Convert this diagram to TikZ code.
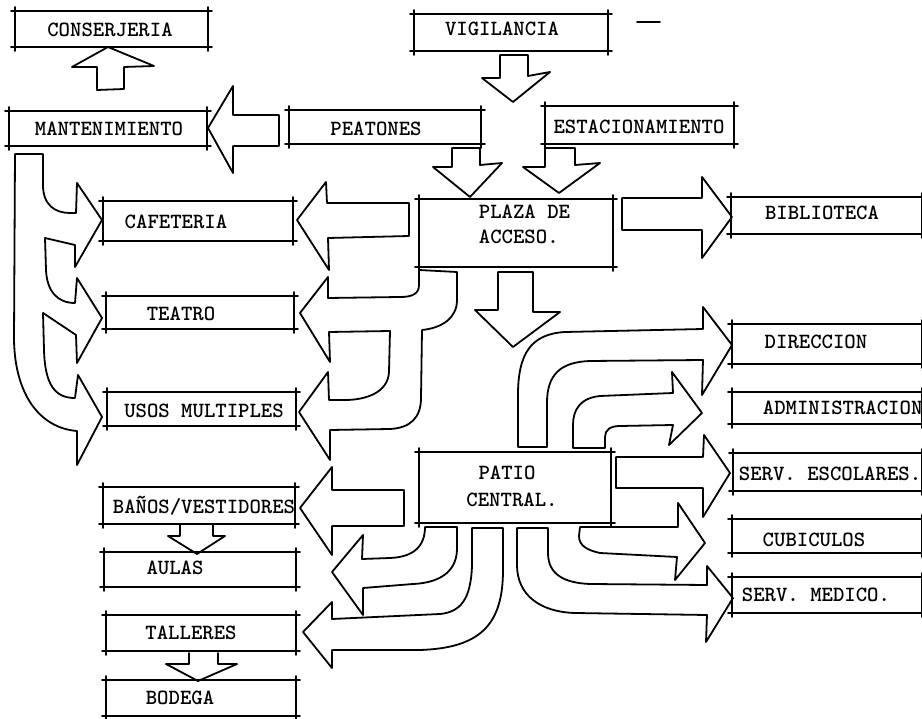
\documentclass[tikz,border=0pt]{standalone}
\usetikzlibrary{fit}
\newcommand\tbx[5]{%
  \node[inner sep=0pt, fit={(#2,#3) (#4,#5)}] (#1) {};
  \draw[edge] (#1.north west) -- (#1.north east);
  \draw[edge] (#1.south west) -- (#1.south east);
  \draw[edge] (#1.north west) -- (#1.south west);
  \draw[edge] (#1.north east) -- (#1.south east);}
\begin{document}
\begin{tikzpicture}[x=1pt,y=-1pt, line width=1.8pt, line join=round, line cap=round,
  edge/.style={shorten <=-4pt, shorten >=-4pt},
  txt/.style={inner sep=0pt, font=\ttfamily\bfseries\fontsize{21.7}{26}\selectfont, text height=13pt, text depth=0pt},
  barrow/.style={line width=1.8pt, line join=round}]
\useasboundingbox (0,0) rectangle (922,719);

% ---------- boxes ----------
\tbx{cons}{16}{12}{207}{46}
\tbx{vig}{415}{15}{607}{50}
\tbx{mant}{10}{112}{206}{145}
\tbx{peat}{290}{111}{480}{143}
\tbx{est}{546}{107}{733}{143}
\tbx{plaza}{420}{200}{612}{266}
\tbx{bib}{732}{198}{921}{233}
\tbx{caf}{104}{202}{292}{240}
\tbx{teat}{107}{297}{293}{328}
\tbx{usos}{108}{393}{295}{425}
\tbx{dir}{733}{325}{921}{363}
\tbx{adm}{733}{393}{921}{423}
\tbx{ese}{734}{454}{921}{490}
\tbx{patio}{420}{453}{610}{522}
\tbx{banos}{104}{488}{294}{523}
\tbx{cub}{733}{520}{921}{552}
\tbx{aulas}{105}{553}{295}{586}
\tbx{smed}{733}{578}{921}{612}
\tbx{tall}{107}{616}{295}{650}
\tbx{bod}{107}{681}{295}{715}

% ---------- texts ----------
\node[txt] (consT) at (110,30) {CONSERJERIA};
\node[txt] (vigT) at (502,29) {VIGILANCIA};
\node[txt] (mantT) at (109,129) {MANTENIMIENTO};
\node[txt] (peatT) at (376,129) {PEATONES};
\node[txt] (estT) at (639,127) {ESTACIONAMIENTO};
\node[txt,anchor=west] (plazaT1) at (478,212) {PLAZA DE};
\node[txt,anchor=west] (plazaT2) at (478,237) {ACCESO.};
\node[txt] (bibT) at (822,213) {BIBLIOTECA};
\node[txt] (cafT) at (176,222) {CAFETERIA};
\node[txt] (teatT) at (181,314) {TEATRO};
\node[txt] (usosT) at (204,411) {USOS MULTIPLES};
\node[txt] (dirT) at (816,342) {DIRECCION};
\node[txt,anchor=west] (admT) at (762,408) {ADMINISTRACION};
\node[txt,anchor=west] (eseT) at (738,474) {SERV. ESCOLARES.};
\node[txt] (patioT1) at (507,473) {PATIO};
\node[txt] (patioT2) at (512,500) {CENTRAL.};
\node[txt] (banosT) at (204,507) {BAÑOS/VESTIDORES};
\node[txt] (cubT) at (814,540) {CUBICULOS};
\node[txt] (aulasT) at (175,568) {AULAS};
\node[txt,anchor=west] (smedT) at (741,595) {SERV. MEDICO.};
\node[txt] (tallT) at (191,633) {TALLERES};
\node[txt] (bodT) at (180,698) {BODEGA};

% ---------- straight block arrows ----------
% Mantenimiento -> Conserjeria
\draw[barrow] (97,90) -- (97,67) -- (72,67) -- (108,47) -- (154,66) -- (124,67) -- (124,89) -- cycle;
% Vigilancia down
\draw[barrow] (500,55) -- (528,55) -- (528,76) -- (550,72) -- (513,102) -- (482,78) -- (500,78) -- cycle;
% Peatones -> Mantenimiento
\draw[barrow] (279,115) -- (233,115) -- (233,86) -- (208,128) -- (233,173) -- (233,146) -- (279,146) -- cycle;
% Peatones down
\draw[barrow] (452,148) -- (480,148) -- (480,165) -- (502,163) -- (470,197) -- (433,167) -- (452,167) -- cycle;
% Estacionamiento down
\draw[barrow] (545,148) -- (575,148) -- (575,165) -- (600,163) -- (559,193) -- (523,167) -- (545,167) -- cycle;
% Plaza -> Biblioteca
\draw[barrow] (622,198) -- (702,198) -- (702,177) -- (732,217) -- (702,258) -- (702,230) -- (622,230) -- cycle;
% Plaza -> Cafeteria
\draw[barrow] (409,203) -- (327,203) -- (326,182) -- (297,220) -- (329,270) -- (328,238) -- (409,236) -- cycle;
% Plaza -> Patio
\draw[barrow] (498,272) -- (533,272) -- (533,312) -- (560,312) -- (513,347) -- (475,310) -- (498,310) -- cycle;
% Patio -> Banos
\draw[barrow] (404,490) -- (332,490) -- (332,467) -- (300,508) -- (332,555) -- (332,526) -- (404,526) -- cycle;
% Patio -> Serv. escolares
\draw[barrow] (616,457) -- (703,457) -- (704,435) -- (730,473) -- (703,517) -- (703,488) -- (616,488) -- cycle;
% Banos -> Aulas
\draw[barrow] (180,525) -- (180,536) -- (168,536) -- (197,554) -- (225,536) -- (213,536) -- (213,525);
% Talleres -> Bodega
\draw[barrow] (189,653) -- (189,664) -- (166,664) -- (198,681) -- (237,664) -- (218,664) -- (218,653);

% ---------- curved bands ----------
% Plaza -> Teatro / Usos multiples
\draw[barrow] (419,270) -- (419,285) .. controls (419,294) and (412,297) .. (400,297) -- (328,298)
  -- (328,277) -- (300,313) -- (330,362) -- (329,332) -- (390,331)
  -- (389,372) .. controls (388,393) and (365,400) .. (345,400) -- (329,400)
  -- (328,372) -- (299,412) -- (330,460) -- (330,430) -- (390,429)
  .. controls (410,428) and (421,418) .. (421,398) -- (422,330)
  .. controls (442,328) and (457,318) .. (457,300) -- (457,272) -- cycle;

% Patio -> Aulas
\draw[barrow] (425,527) -- (457,527) -- (457,550) .. controls (456,575) and (435,583) .. (413,584) -- (363,588)
  -- (363,615) -- (332,572) -- (363,535) -- (362,559)
  -- (390,558) .. controls (415,557) and (425,545) .. (425,527);

% Patio -> Talleres
\draw[barrow] (472,528) -- (503,528) -- (503,570) .. controls (503,625) and (480,648) .. (420,650) -- (332,650)
  -- (332,668) -- (303,632) -- (332,602) -- (332,619)
  -- (440,614) .. controls (460,612) and (471,600) .. (472,565) -- cycle;

% Patio -> Serv. medico
\draw[barrow] (517,528) -- (548,528) -- (548,553) .. controls (548,575) and (565,583) .. (590,584) -- (707,585)
  -- (707,566) -- (733,598) -- (706,642) -- (707,615)
  -- (575,613) .. controls (540,612) and (517,595) .. (517,565) -- cycle;

% Patio -> Cubiculos
\draw[barrow] (580,527) -- (678,527) -- (678,503) -- (705,543) -- (675,580) -- (677,557)
  -- (600,553) .. controls (586,550) and (579,545) .. (579,536) -- cycle;

% Patio -> Direccion
\draw[barrow] (518,447) -- (547,447) -- (547,403) .. controls (547,375) and (560,362) .. (590,361) -- (703,360)
  -- (702,395) -- (732,345) -- (703,307) -- (703,329)
  -- (565,332) .. controls (530,334) and (518,355) .. (518,395) -- cycle;

% Patio -> Administracion
\draw[barrow] (573,448) -- (605,448) -- (605,437) .. controls (605,430) and (610,426) .. (620,426) -- (673,425)
  -- (669,445) -- (702,413) -- (672,372) -- (673,393)
  -- (600,396) .. controls (580,398) and (573,410) .. (573,425) -- cycle;

% Mantenimiento -> Cafeteria / Teatro / Usos multiples
\draw[barrow] (15,154) -- (43,154) -- (43,185) .. controls (43,205) and (55,213) .. (70,213) -- (76,213)
  -- (77,183) -- (102,220) -- (75,267) -- (75,245) -- (45,238)
  -- (46,270) .. controls (47,292) and (58,303) .. (75,303)
  -- (77,278) -- (102,318) -- (77,363) -- (76,335) -- (43,313)
  -- (44,350) .. controls (45,385) and (55,398) .. (75,398)
  -- (78,375) -- (102,417) -- (77,465) -- (77,431)
  .. controls (40,428) and (15,395) .. (14,340) -- cycle;

% stray mark
\draw (637,22) -- (660,22);
\end{tikzpicture}
\end{document}
